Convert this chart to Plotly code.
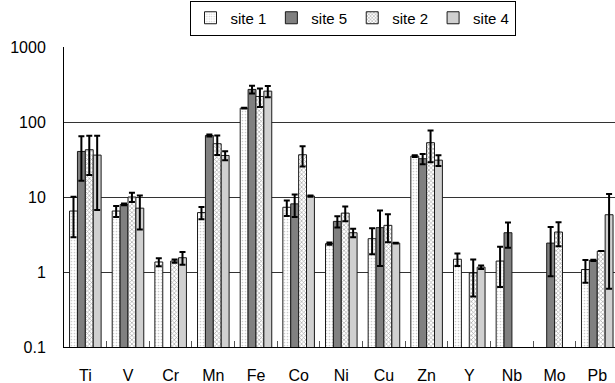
import plotly.graph_objects as go

# Element concentrations by site (mean and standard deviation)
elements = ["Ti", "V", "Cr", "Mn", "Fe", "Co", "Ni", "Cu", "Zn", "Y", "Nb", "Mo", "Pb"]

site1 = [6.5, 6.5, 1.36, 6.2, 153, 7.3, 2.39, 2.78, 35.1, 1.48, 1.40, None, 1.08]
site1_sd = [3.6, 1.1, 0.17, 1.15, 2, 1.7, 0.08, 1.05, 1.0, 0.28, 0.77, None, 0.36]

site5 = [40.5, 7.96, None, 66.2, 272, 8.1, 4.73, 3.9, 32.4, None, 3.34, 2.43, 1.43]
site5_sd = [24, 0.2, None, 2.0, 33, 2.7, 0.8, 2.7, 5.0, None, 1.23, 1.55, 0.03]

site2 = [42.7, 10.0, 1.40, 51.3, 219, 36.6, 6.1, 4.19, 53, 0.97, None, 3.41, 1.90]
site2_sd = [23, 1.4, 0.07, 15, 60, 11, 1.35, 1.7, 24, 0.5, None, 1.2, 0]

site4 = [36.2, 7.1, 1.55, 35.8, 258, 10.3, 3.34, 2.43, 31, 1.16, None, None, 5.8]
site4_sd = [29.5, 3.4, 0.3, 5.0, 45, 0.2, 0.43, 0.03, 5.0, 0.06, None, None, 5.2]

y_ticks = [0.1, 1, 10, 100, 1000]
y_tick_labels = ["0.1", "1", "10", "100", "1000"]

series = [
    ("site 1", site1, site1_sd,
     dict(shape=".", size=3, solidity=0.25, fgcolor="#9a9a9a", bgcolor="#ffffff")),
    ("site 5", site5, site5_sd, None),
    ("site 2", site2, site2_sd,
     dict(shape="x", size=3, solidity=0.4, fgcolor="#4a4a4a", bgcolor="#ffffff")),
    ("site 4", site4, site4_sd,
     dict(shape=".", size=2, solidity=0.5, fgcolor="#888888", bgcolor="#e4e4e4")),
]

fig = go.Figure()
for name, vals, sd, pattern in series:
    marker = dict(line=dict(color="#1a1a1a", width=1))
    if pattern is None:
        marker["color"] = "#808080"
    else:
        marker["color"] = "#ffffff"
        marker["pattern"] = pattern
    fig.add_trace(go.Bar(
        name=name,
        x=elements,
        y=vals,
        marker=marker,
        error_y=dict(type="data", array=sd, visible=True,
                     color="#000000", thickness=2, width=3),
    ))

font_family = "Liberation Sans, Arial, sans-serif"

fig.update_layout(
    width=615,
    height=383,
    margin=dict(l=64, r=0, t=47, b=36),
    paper_bgcolor="#ffffff",
    plot_bgcolor="#ffffff",
    barmode="group",
    bargap=0.26,
    bargroupgap=0,
    font=dict(family=font_family, size=15, color="#000000"),
    showlegend=True,
    legend=dict(
        orientation="h",
        x=0.5236, xanchor="center",
        y=1.155, yanchor="top",
        bordercolor="#000000", borderwidth=1,
        bgcolor="#ffffff",
        font=dict(family=font_family, size=15, color="#000000"),
        itemwidth=30,
        tracegroupgap=0,
    ),
    xaxis=dict(
        type="category",
        range=[-0.5, 12.416],
        showline=True, linecolor="#000000", linewidth=1,
        ticks="inside", ticklen=6, tickcolor="#555555", tickwidth=1,
        tickson="boundaries",
        showgrid=False,
        ticklabelstandoff=14,
        tickfont=dict(size=16),
    ),
    yaxis=dict(
        type="log",
        range=[-1, 3],
        tickvals=y_ticks,
        ticktext=y_tick_labels,
        showline=True, linecolor="#000000", linewidth=1,
        showgrid=True, gridcolor="#333333", gridwidth=1,
        ticks="", ticklabelstandoff=14,
        tickfont=dict(size=16),
        zeroline=False,
    ),
)

fig.write_html("out.html")
